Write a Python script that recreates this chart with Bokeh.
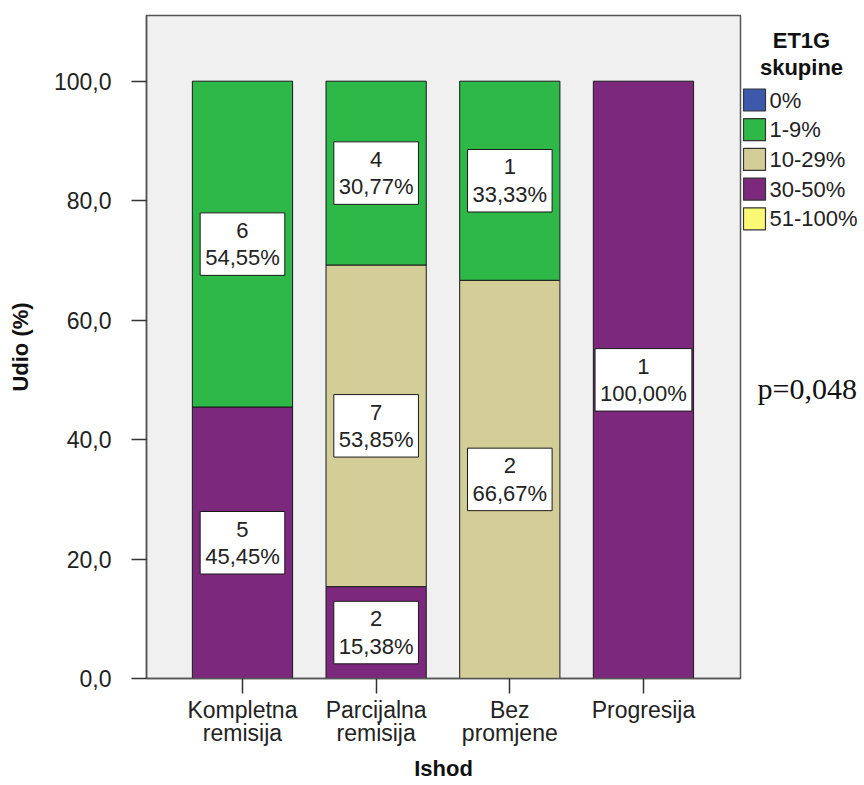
from bokeh.plotting import figure
from bokeh.layouts import row
from bokeh.models import Range1d, FixedTicker
from bokeh.core.properties import value
from bokeh.embed import file_html
from bokeh.resources import INLINE

# ---- data ----
categories = ["Kompletna remisija", "Parcijalna remisija", "Bez promjene", "Progresija"]
tick_labels = ["Kompletna\nremisija", "Parcijalna\nremisija", "Bez\npromjene", "Progresija"]
groups = ["0%", "1-9%", "10-29%", "30-50%", "51-100%"]
colors = ["#3E58AC", "#2EB848", "#D3CE97", "#7C287D", "#FBF873"]

count_0 = [0, 0, 0, 0]
count_1_9 = [6, 4, 1, 0]
count_10_29 = [0, 7, 2, 0]
count_30_50 = [5, 2, 0, 1]
count_51_100 = [0, 0, 0, 0]

pct_0 = [0.0, 0.0, 0.0, 0.0]
pct_1_9 = [54.55, 30.77, 33.33, 0.0]
pct_10_29 = [0.0, 53.85, 66.67, 0.0]
pct_30_50 = [45.45, 15.38, 0.0, 100.0]
pct_51_100 = [0.0, 0.0, 0.0, 0.0]

y_ticks = [0, 20, 40, 60, 80, 100]
y_tick_labels = ["0,0", "20,0", "40,0", "60,0", "80,0", "100,0"]
legend_title = "ET1G\nskupine"
p_value_text = "p=0,048"
x_title = "Ishod"
y_title = "Udio (%)"

counts = [count_0, count_1_9, count_10_29, count_30_50, count_51_100]
pcts = [pct_0, pct_1_9, pct_10_29, pct_30_50, pct_51_100]

FONT = "Liberation Sans"
TXT = "#222222"
H = 785
TOP = 15
BOTTOM = 107

p = figure(width=742, height=H, x_range=Range1d(-0.718, 3.726), y_range=Range1d(0, 111),
           output_backend="svg", toolbar_location=None,
           min_border_left=146, min_border_right=2, min_border_top=TOP, min_border_bottom=BOTTOM)
p.background_fill_color = "#F0F0F0"
p.border_fill_color = "white"
p.outline_line_color = "#555555"
p.outline_line_width = 1.5
p.xgrid.visible = False
p.ygrid.visible = False

xs = list(range(len(categories)))
bottom = [0.0] * len(categories)
lab_x, lab_y, lab_t = [], [], []
for gi in reversed(range(len(groups))):
    pc = pcts[gi]
    cn = counts[gi]
    bx, bb, bt = [], [], []
    for i in xs:
        if pc[i] > 0:
            bx.append(i)
            bb.append(bottom[i])
            bt.append(bottom[i] + pc[i])
            lab_x.append(i)
            lab_y.append(bottom[i] + pc[i] / 2)
            lab_t.append(f"{cn[i]}\n" + f"{pc[i]:.2f}".replace(".", ",") + "%")
    if bx:
        p.vbar(x=bx, bottom=bb, top=bt, width=0.75, fill_color=colors[gi],
               line_color="#1a1a1a", line_width=1)
    bottom = [bottom[i] + pc[i] for i in xs]

p.text(x=lab_x, y=lab_y, text=lab_t, text_align="center", text_baseline="middle",
       text_font=value(FONT), text_font_size="22px", text_color=TXT, text_line_height=1.1,
       background_fill_color="white", border_line_color="#1a1a1a", border_line_width=1,
       padding=5)

# axes
p.xaxis.ticker = FixedTicker(ticks=xs)
p.xaxis.major_label_overrides = {i: t for i, t in zip(xs, tick_labels)}
p.yaxis.ticker = FixedTicker(ticks=y_ticks)
p.yaxis.major_label_overrides = {t: l for t, l in zip(y_ticks, y_tick_labels)}
for ax in (p.xaxis[0], p.yaxis[0]):
    ax.axis_line_color = "#555555"
    ax.axis_line_width = 1.5
    ax.major_tick_line_color = "#333333"
    ax.major_tick_line_width = 1.5
    ax.major_tick_out = 15
    ax.major_tick_in = 0
    ax.minor_tick_out = 0
    ax.minor_tick_in = 0
    ax.major_label_text_font = FONT
    ax.major_label_text_font_size = "23px"
    ax.major_label_text_color = TXT
    ax.axis_label_text_font = FONT
    ax.axis_label_text_font_size = "22px"
    ax.axis_label_text_font_style = "bold"
    ax.axis_label_text_color = "#111111"
    ax.axis_label_text_line_height = 1.0
p.xaxis.axis_label = x_title
p.yaxis.axis_label = y_title
p.xaxis.major_label_text_line_height = 0.9
p.xaxis.major_label_standoff = 3
p.xaxis.axis_label_standoff = 7
p.yaxis.major_label_standoff = 20
p.yaxis.axis_label_standoff = 18

# ---- side panel: legend + p value (y in screen pixels, frame aligned with main) ----
s = figure(width=122, height=H, x_range=Range1d(0, 122), y_range=Range1d(H - BOTTOM, TOP),
           output_backend="svg", toolbar_location=None, min_border=0,
           min_border_top=TOP, min_border_bottom=BOTTOM,
           x_axis_type=None, y_axis_type=None)
s.outline_line_color = None
s.background_fill_color = "white"
s.border_fill_color = "white"
s.xgrid.visible = False
s.ygrid.visible = False

s.text(x=[59], y=[53.5], text=[legend_title], text_align="center", text_baseline="middle",
       text_font=value(FONT), text_font_size="22px", text_font_style="bold",
       text_color="#111111", text_line_height=1.05)

sw_y = [99.5 + 29.7 * i for i in range(len(groups))]
s.rect(x=[12] * len(groups), y=sw_y, width=22, height=22, fill_color=colors,
       line_color="#333333", line_width=1.2)
s.text(x=[27] * len(groups), y=sw_y, text=groups, text_align="left", text_baseline="middle",
       text_font=value(FONT), text_font_size="22px", text_color=TXT)

s.text(x=[15], y=[388], text=[p_value_text], text_align="left", text_baseline="middle",
       text_font=value("Liberation Serif"), text_font_size="30px", text_color="#111111")

layout = row(p, s)
open("out.html", "w").write(file_html(layout, INLINE))
